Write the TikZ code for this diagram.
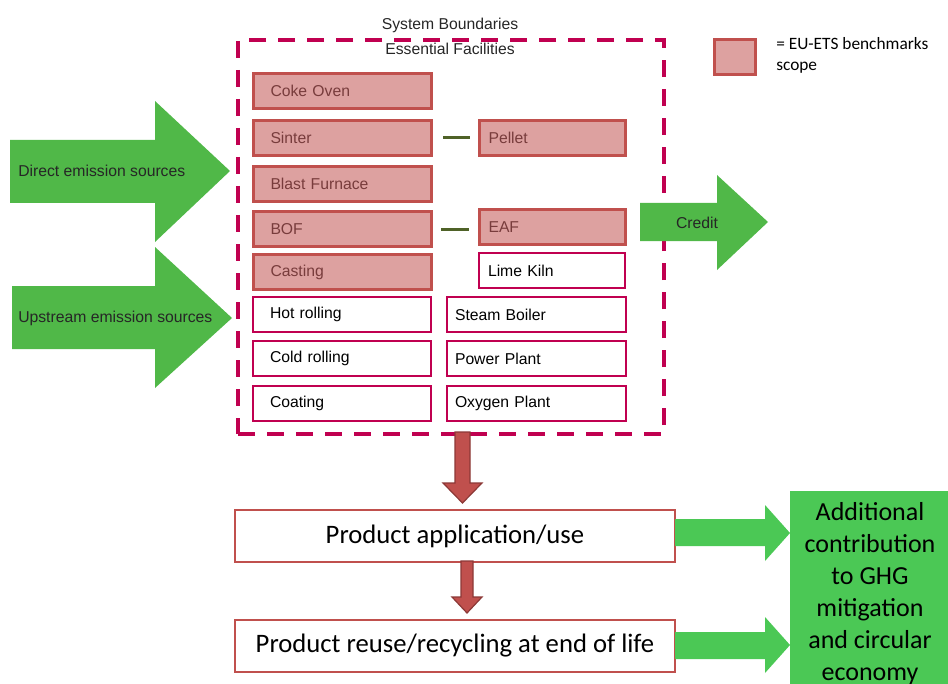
\documentclass[tikz,border=0pt]{standalone}
\usepackage{fontspec}
\setmainfont{Liberation Sans}
\newfontfamily\calfont{Carlito}
\usetikzlibrary{calc}
\definecolor{crim}{RGB}{192,0,80}
\definecolor{pinkfill}{RGB}{221,161,160}
\definecolor{pinkedge}{RGB}{192,80,77}
\definecolor{pinktext}{RGB}{120,60,60}
\definecolor{greenA}{RGB}{80,184,72}
\definecolor{greenB}{RGB}{75,200,85}
\definecolor{redfill}{RGB}{192,80,77}
\definecolor{reddraw}{RGB}{140,56,54}
\definecolor{olivec}{RGB}{79,98,40}
\definecolor{txt}{RGB}{38,38,38}
\begin{document}
\begin{tikzpicture}[x=0.75pt,y=-0.75pt,
  base/.style={rectangle, minimum height=26.25pt, inner ysep=0pt, align=left,
    font=\fontsize{11.8}{13}\selectfont, anchor=north west},
  pinkbox/.style={base, fill=pinkfill, draw=pinkedge, line width=2.25pt, text=pinktext},
  whitebox/.style={base, fill=white, draw=crim, line width=1.5pt, text=black},
  leftcol/.style={text width=108pt, inner xsep=12.75pt},
  rightA/.style={text width=96pt, inner xsep=6.75pt},
  rightB/.style={text width=122.25pt, inner xsep=6pt},
  title/.style={font=\fontsize{11.8}{13}\selectfont, text=txt, inner sep=0pt},
  arrtext/.style={font=\fontsize{11.8}{13}\selectfont, text=txt, inner sep=0pt},
  prodbox/.style={rectangle, draw=pinkedge, fill=white, line width=1.5pt, minimum width=330pt,
    minimum height=39pt, anchor=north west, font=\calfont\fontsize{20}{24}\selectfont, inner sep=0pt},
  joinline/.style={draw=olivec, line width=2.25pt},
  greenarrow/.style={fill=greenA},
  greenarrowB/.style={fill=greenB},
  redarrow/.style={fill=redfill, draw=reddraw, line width=0.9pt, line join=miter}
]
\useasboundingbox (0,0) rectangle (948,684);
\clip (0,0) rectangle (948,684);

% system boundary
\node[draw=crim, line width=3pt, dash pattern=on 12.75pt off 9pt, minimum width=319.5pt,
  minimum height=295.5pt, anchor=north west, inner sep=0pt] (sys) at (236,38) {};
\node[title] (sbl) at (450,25) {System Boundaries};
\node[title] (efl) at (450,49) {Essential Facilities};

% left column
\node[pinkbox, leftcol] (coke) at (252,72) {Coke Oven};
\node[pinkbox, leftcol] (sinter) at (252,119) {Sinter};
\node[pinkbox, leftcol] (blast) at (252,165) {Blast Furnace};
\node[pinkbox, leftcol] (bof) at (252,210) {BOF};
\node[pinkbox, leftcol] (casting) at (252,253) {Casting};
\node[whitebox, leftcol] (hot) at (252,296) {Hot rolling};
\node[whitebox, leftcol] (cold) at (252,340) {Cold rolling};
\node[whitebox, leftcol] (coat) at (252,385) {Coating};

% right column
\node[pinkbox, rightA] (pellet) at (478,119) {Pellet};
\node[pinkbox, rightA] (eaf) at (478,208) {EAF};
\node[whitebox, rightA] (lime) at (478,252) {Lime Kiln};
\node[whitebox, rightB] (steam) at (446,296) {Steam Boiler};
\node[whitebox, rightB] (power) at (446,340) {Power Plant};
\node[whitebox, rightB] (oxy) at (446,385) {Oxygen Plant};

\draw[joinline, shorten <=7.5pt, shorten >=6pt] (sinter.east) -- (pellet.west |- sinter.east);
\draw[joinline, shorten <=6pt, shorten >=6.75pt] (bof.east) -- (eaf.west |- bof.east);

% legend
\node[pinkbox, minimum width=30.75pt, minimum height=26.25pt, inner sep=0pt] (leg) at (713,38) {};
\node[anchor=north west, align=left, inner sep=0pt, font=\calfont\fontsize{13}{16}\selectfont, text=black]
  (legtxt) at (776,37) {= EU-ETS benchmarks\\scope};

% input arrows
\fill[greenarrow] (10,140) -- (155,140) -- (155,101) -- (230,171) -- (155,242) -- (155,203) -- (10,203) -- cycle;
\node[arrtext, anchor=west] (direct) at (18,171) {Direct emission sources};
\fill[greenarrow] (12,286) -- (155,286) -- (155,247) -- (232,318) -- (155,388) -- (155,349) -- (12,349) -- cycle;
\node[arrtext, anchor=west] (upstream) at (18,318) {Upstream emission sources};

% credit
\fill[greenarrow] (640,203) -- (717,203) -- (717,175) -- (768,222) -- (717,270) -- (717,241) -- (640,241) -- cycle;
\node[arrtext] (credit) at (697,223) {Credit};

% product boxes
\node[prodbox] (app) at (234,509) {Product application/use};
\node[prodbox] (reuse) at (234,619) {Product reuse/recycling at end of life};

% red arrows
\draw[redarrow] (455,432) -- (470,432) -- (470,483) -- (482,483) -- (462.5,503) -- (443,483) -- (455,483) -- cycle;
\draw[redarrow] (461,561) -- (473,561) -- (473,597) -- (482,597) -- (467,613) -- (452,597) -- (461,597) -- cycle;

% green result box
\node[fill=greenB, minimum width=127.5pt, minimum height=150pt, anchor=north west, inner sep=0pt] (gbox) at (790,491) {};
\node[anchor=north, align=center, inner sep=0pt, font=\calfont\fontsize{19.5}{24}\selectfont, text=black]
  (gtext) at (870,502) {Additional\\contribution\\to GHG\\mitigation\\and circular\\economy};
\fill[greenarrowB] (675,519) -- (765,519) -- (765,505) -- (790,533) -- (765,561) -- (765,546) -- (675,546) -- cycle;
\fill[greenarrowB] (675,632) -- (765,632) -- (765,617) -- (790,645) -- (765,673) -- (765,659) -- (675,659) -- cycle;
\end{tikzpicture}
\end{document}
